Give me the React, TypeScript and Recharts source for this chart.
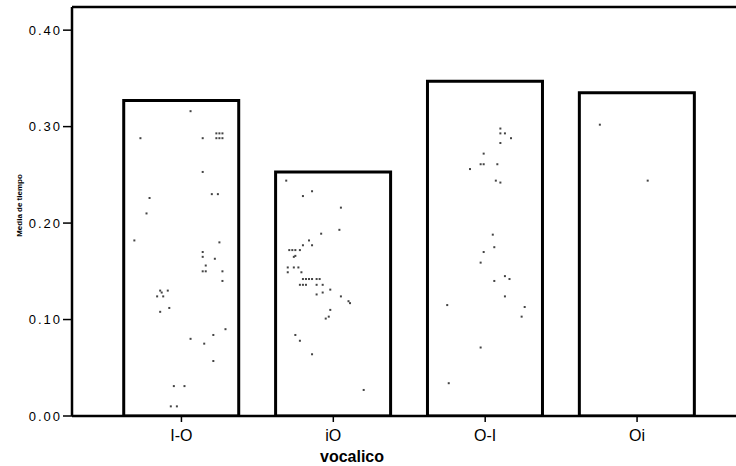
import React from 'react';
import { ComposedChart, Bar, Scatter, XAxis, YAxis, ReferenceLine } from 'recharts';

const categories = ['I-O', 'iO', 'O-I', 'Oi'];
const meanValues = [0.327, 0.253, 0.347, 0.335];
const yTicks = [0, 0.1, 0.2, 0.3, 0.4];

// individual observations per category: jitter (in category units) and value
const ioJitterA = [0.06,-0.27,0.14,0.23,0.25,0.27,0.23,0.25,0.27,0.14,-0.21,-0.23,0.2,0.24,-0.31,0.25,0.14,0.14,0.22,0.16,0.14,0.16,0.27,0.27,-0.14,-0.13,-0.09,-0.16,-0.12,-0.08,-0.14,0.29,0.06,0.21,0.15,0.21,-0.05,0.02,-0.07,-0.03];
const ioValuesA = [0.316,0.288,0.288,0.293,0.293,0.293,0.288,0.288,0.288,0.253,0.226,0.21,0.23,0.23,0.182,0.18,0.17,0.165,0.163,0.156,0.15,0.15,0.15,0.14,0.13,0.128,0.13,0.124,0.124,0.112,0.108,0.09,0.08,0.084,0.075,0.057,0.031,0.031,0.01,0.01];

const ioJitterB = [-0.31,-0.2,-0.14,0.05,0.04,-0.08,-0.16,-0.2,-0.14,-0.29,-0.27,-0.25,-0.22,-0.25,-0.26,-0.3,-0.26,-0.23,-0.3,-0.21,-0.2,-0.18,-0.16,-0.14,-0.11,-0.09,-0.22,-0.2,-0.18,-0.11,-0.07,-0.02,-0.07,-0.11,0.05,0.1,0.11,-0.02,-0.03,-0.05,-0.25,-0.22,-0.14,0.2];
const ioValuesB = [0.244,0.228,0.233,0.216,0.193,0.189,0.182,0.177,0.177,0.172,0.172,0.172,0.172,0.166,0.165,0.154,0.154,0.154,0.149,0.149,0.142,0.142,0.142,0.142,0.142,0.142,0.136,0.136,0.136,0.136,0.136,0.131,0.128,0.126,0.124,0.119,0.117,0.11,0.103,0.101,0.084,0.078,0.064,0.027];

const oiJitterA = [0.1,0.1,0.13,0.17,0.1,-0.01,-0.03,-0.01,0.08,-0.1,0.07,0.1,0.05,0.06,-0.01,-0.03,0.13,0.16,0.06,0.13,-0.25,0.26,0.24,-0.03,-0.24];
const oiValuesA = [0.298,0.293,0.293,0.288,0.283,0.272,0.261,0.261,0.261,0.256,0.244,0.242,0.188,0.175,0.17,0.159,0.145,0.142,0.14,0.124,0.115,0.113,0.103,0.071,0.034];

const oiJitterB = [-0.245,0.07];
const oiValuesB = [0.302,0.244];

const obsJitter = [ioJitterA, ioJitterB, oiJitterA, oiJitterB];
const obsValues = [ioValuesA, ioValuesB, oiValuesA, oiValuesB];

const barData = categories.map((name, i) => ({ name, value: meanValues[i] }));
const obsData = obsValues.flatMap((vals, c) => vals.map((v, k) => ({ x: c + obsJitter[c][k], v })));

const FONT = '"Liberation Sans", Arial, sans-serif';

const Dot = (props: any) => {
  const { cx, cy } = props;
  if (cx == null || cy == null) return null;
  return <rect x={cx - 1} y={cy - 1} width={2} height={2} fill="#444" />;
};

export default function App() {
  return (
    <div style={{ position: 'absolute', left: 0, top: 0, width: 736, height: 466, background: '#fff' }}>
      <ComposedChart
        width={736}
        height={466}
        data={barData}
        margin={{ top: 7, right: 0, bottom: 0, left: 0 }}
        barCategoryGap="12%"
      >
        <XAxis
          xAxisId="cat"
          dataKey="name"
          type="category"
          padding={{ left: 33.5, right: 23 }}
          height={50}
          tickSize={6}
          tickMargin={8}
          axisLine={{ stroke: '#000', strokeWidth: 2.5 }}
          tickLine={{ stroke: '#000', strokeWidth: 1.5 }}
          tick={{ fill: '#000', fontSize: 16, fontFamily: FONT }}
          label={{ value: 'vocalico', position: 'insideBottom', dx: -52, offset: 4, style: { fill: '#000', fontSize: 16, fontWeight: 'bold', fontFamily: FONT } }}
        />
        <XAxis
          xAxisId="num"
          dataKey="x"
          type="number"
          domain={[-0.5, 3.5]}
          allowDataOverflow
          padding={{ left: 33.5, right: 23 }}
          hide
        />
        <YAxis
          domain={[0, 0.424]}
          ticks={yTicks}
          width={72}
          allowDataOverflow
          tickFormatter={(v: number) => v.toFixed(2)}
          tickSize={9}
          tickMargin={1}
          axisLine={{ stroke: '#000', strokeWidth: 2.5 }}
          tickLine={{ stroke: '#000', strokeWidth: 1.5 }}
          tick={{ fill: '#000', fontSize: 13, fontFamily: FONT, letterSpacing: 2 }}
          label={{ value: 'Media de tiempo', angle: -90, position: 'insideLeft', dx: 14, dy: -6, style: { fill: '#000', fontSize: 8, fontWeight: 'bold', fontFamily: FONT, textAnchor: 'middle' } }}
        />
        <ReferenceLine xAxisId="cat" y={0.424} stroke="#000" strokeWidth={2.5} />
        <Bar
          xAxisId="cat"
          dataKey="value"
          fill="#fff"
          stroke="#000"
          strokeWidth={3}
          isAnimationActive={false}
        />
        <Scatter
          xAxisId="num"
          data={obsData}
          dataKey="v"
          shape={Dot}
          isAnimationActive={false}
        />
      </ComposedChart>
    </div>
  );
}
